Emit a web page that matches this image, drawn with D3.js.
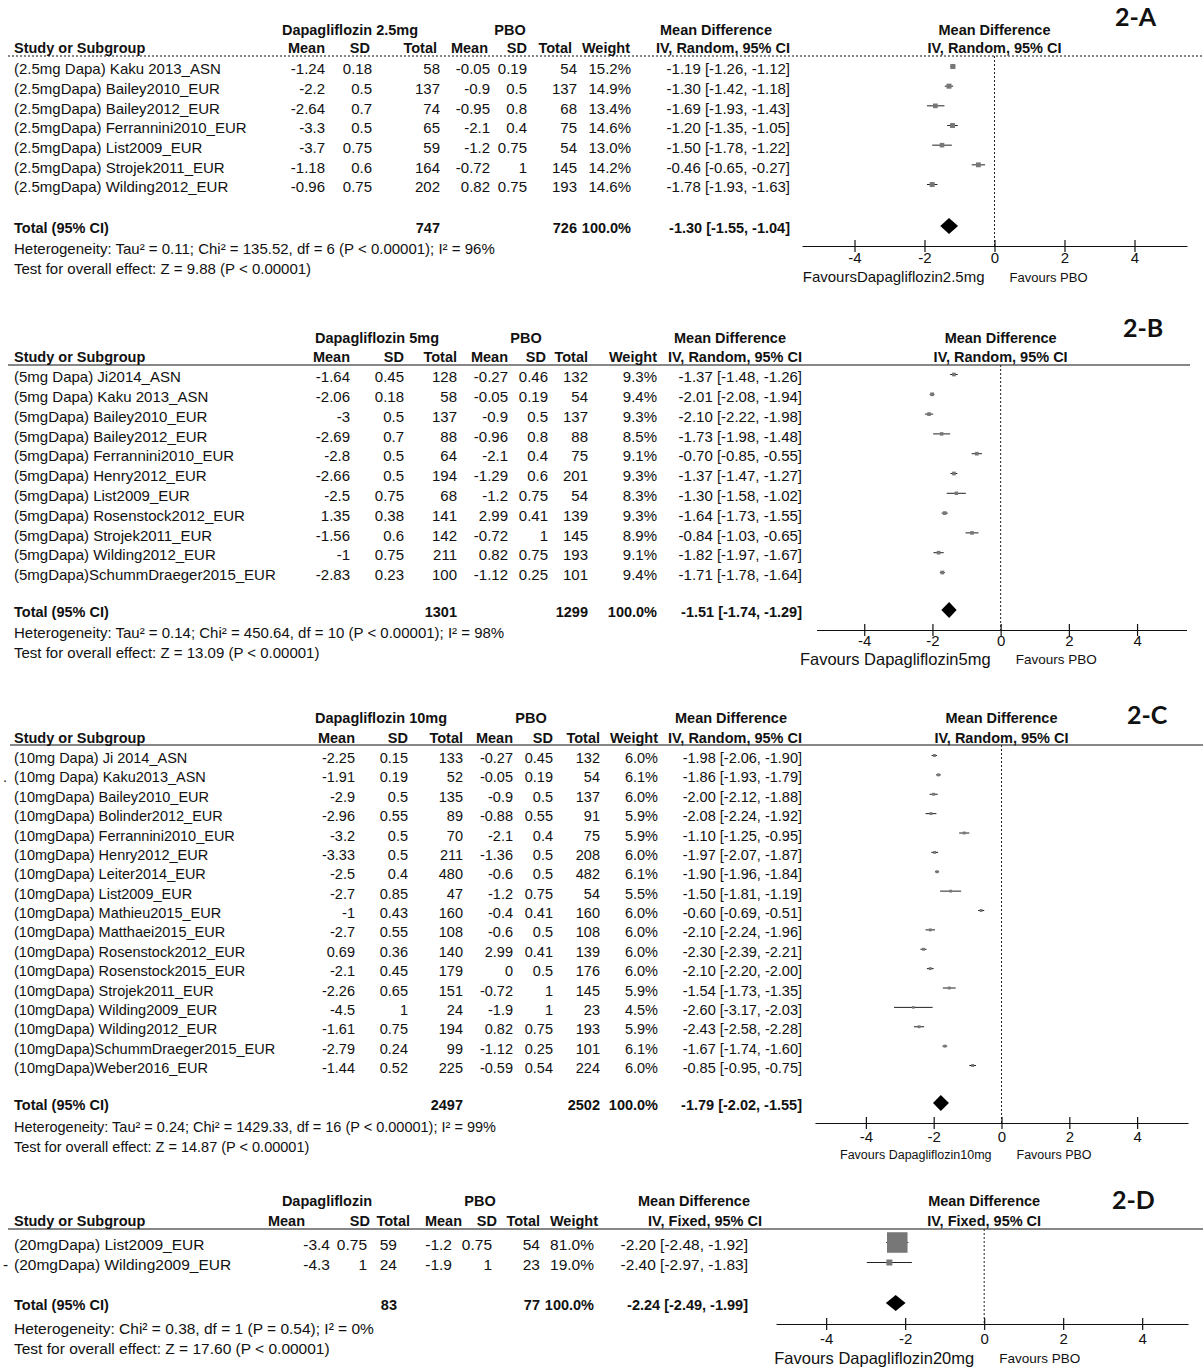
<!DOCTYPE html>
<html><head><meta charset="utf-8">
<script src="https://cdn.jsdelivr.net/npm/d3@7"></script>
<style>body{margin:0;background:#fff}svg text{font-family:"Liberation Sans",Arial,sans-serif;fill:#111}</style>
</head><body><svg id="chart" width="1203" height="1370"></svg>
<script>
// ---------- Panel 2-A : Dapagliflozin 2.5mg vs PBO ----------
const aStudies = ["(2.5mg Dapa) Kaku 2013_ASN","(2.5mgDapa) Bailey2010_EUR","(2.5mgDapa) Bailey2012_EUR","(2.5mgDapa) Ferrannini2010_EUR","(2.5mgDapa) List2009_EUR","(2.5mgDapa) Strojek2011_EUR","(2.5mgDapa) Wilding2012_EUR"];
const aDapaMean = [-1.24,-2.2,-2.64,-3.3,-3.7,-1.18,-0.96];
const aDapaSD   = [0.18,0.5,0.7,0.5,0.75,0.6,0.75];
const aDapaN    = [58,137,74,65,59,164,202];
const aPboMean  = [-0.05,-0.9,-0.95,-2.1,-1.2,-0.72,0.82];
const aPboSD    = [0.19,0.5,0.8,0.4,0.75,1,0.75];
const aPboN     = [54,137,68,75,54,145,193];
const aWeight   = [15.2,14.9,13.4,14.6,13.0,14.2,14.6];
const aMD       = [-1.19,-1.30,-1.69,-1.20,-1.50,-0.46,-1.78];
const aLo       = [-1.26,-1.42,-1.93,-1.35,-1.78,-0.65,-1.93];
const aHi       = [-1.12,-1.18,-1.43,-1.05,-1.22,-0.27,-1.63];
const aTotal    = {dapaN:747, pboN:726, md:-1.30, lo:-1.55, hi:-1.04};
const aHet  = "Heterogeneity: Tau\u00B2 = 0.11; Chi\u00B2 = 135.52, df = 6 (P < 0.00001); I\u00B2 = 96%";
const aTest = "Test for overall effect: Z = 9.88 (P < 0.00001)";

// ---------- Panel 2-B : Dapagliflozin 5mg vs PBO ----------
const bStudies = ["(5mg Dapa) Ji2014_ASN","(5mg Dapa) Kaku 2013_ASN","(5mgDapa) Bailey2010_EUR","(5mgDapa) Bailey2012_EUR","(5mgDapa) Ferrannini2010_EUR","(5mgDapa) Henry2012_EUR","(5mgDapa) List2009_EUR","(5mgDapa) Rosenstock2012_EUR","(5mgDapa) Strojek2011_EUR","(5mgDapa) Wilding2012_EUR","(5mgDapa)SchummDraeger2015_EUR"];
const bDapaMean = [-1.64,-2.06,-3,-2.69,-2.8,-2.66,-2.5,1.35,-1.56,-1,-2.83];
const bDapaSD   = [0.45,0.18,0.5,0.7,0.5,0.5,0.75,0.38,0.6,0.75,0.23];
const bDapaN    = [128,58,137,88,64,194,68,141,142,211,100];
const bPboMean  = [-0.27,-0.05,-0.9,-0.96,-2.1,-1.29,-1.2,2.99,-0.72,0.82,-1.12];
const bPboSD    = [0.46,0.19,0.5,0.8,0.4,0.6,0.75,0.41,1,0.75,0.25];
const bPboN     = [132,54,137,88,75,201,54,139,145,193,101];
const bWeight   = [9.3,9.4,9.3,8.5,9.1,9.3,8.3,9.3,8.9,9.1,9.4];
const bMD       = [-1.37,-2.01,-2.10,-1.73,-0.70,-1.37,-1.30,-1.64,-0.84,-1.82,-1.71];
const bLo       = [-1.48,-2.08,-2.22,-1.98,-0.85,-1.47,-1.58,-1.73,-1.03,-1.97,-1.78];
const bHi       = [-1.26,-1.94,-1.98,-1.48,-0.55,-1.27,-1.02,-1.55,-0.65,-1.67,-1.64];
const bTotal    = {dapaN:1301, pboN:1299, md:-1.51, lo:-1.74, hi:-1.29};
const bHet  = "Heterogeneity: Tau\u00B2 = 0.14; Chi\u00B2 = 450.64, df = 10 (P < 0.00001); I\u00B2 = 98%";
const bTest = "Test for overall effect: Z = 13.09 (P < 0.00001)";

// ---------- Panel 2-C : Dapagliflozin 10mg vs PBO ----------
const cStudies = ["(10mg Dapa) Ji 2014_ASN","(10mg Dapa) Kaku2013_ASN","(10mgDapa) Bailey2010_EUR","(10mgDapa) Bolinder2012_EUR","(10mgDapa) Ferrannini2010_EUR","(10mgDapa) Henry2012_EUR","(10mgDapa) Leiter2014_EUR","(10mgDapa) List2009_EUR","(10mgDapa) Mathieu2015_EUR","(10mgDapa) Matthaei2015_EUR","(10mgDapa) Rosenstock2012_EUR","(10mgDapa) Rosenstock2015_EUR","(10mgDapa) Strojek2011_EUR","(10mgDapa) Wilding2009_EUR","(10mgDapa) Wilding2012_EUR","(10mgDapa)SchummDraeger2015_EUR","(10mgDapa)Weber2016_EUR"];
const cDapaMean = [-2.25,-1.91,-2.9,-2.96,-3.2,-3.33,-2.5,-2.7,-1,-2.7,0.69,-2.1,-2.26,-4.5,-1.61,-2.79,-1.44];
const cDapaSD   = [0.15,0.19,0.5,0.55,0.5,0.5,0.4,0.85,0.43,0.55,0.36,0.45,0.65,1,0.75,0.24,0.52];
const cDapaN    = [133,52,135,89,70,211,480,47,160,108,140,179,151,24,194,99,225];
const cPboMean  = [-0.27,-0.05,-0.9,-0.88,-2.1,-1.36,-0.6,-1.2,-0.4,-0.6,2.99,0,-0.72,-1.9,0.82,-1.12,-0.59];
const cPboSD    = [0.45,0.19,0.5,0.55,0.4,0.5,0.5,0.75,0.41,0.5,0.41,0.5,1,1,0.75,0.25,0.54];
const cPboN     = [132,54,137,91,75,208,482,54,160,108,139,176,145,23,193,101,224];
const cWeight   = [6.0,6.1,6.0,5.9,5.9,6.0,6.1,5.5,6.0,6.0,6.0,6.0,5.9,4.5,5.9,6.1,6.0];
const cMD       = [-1.98,-1.86,-2.00,-2.08,-1.10,-1.97,-1.90,-1.50,-0.60,-2.10,-2.30,-2.10,-1.54,-2.60,-2.43,-1.67,-0.85];
const cLo       = [-2.06,-1.93,-2.12,-2.24,-1.25,-2.07,-1.96,-1.81,-0.69,-2.24,-2.39,-2.20,-1.73,-3.17,-2.58,-1.74,-0.95];
const cHi       = [-1.90,-1.79,-1.88,-1.92,-0.95,-1.87,-1.84,-1.19,-0.51,-1.96,-2.21,-2.00,-1.35,-2.03,-2.28,-1.60,-0.75];
const cTotal    = {dapaN:2497, pboN:2502, md:-1.79, lo:-2.02, hi:-1.55};
const cHet  = "Heterogeneity: Tau\u00B2 = 0.24; Chi\u00B2 = 1429.33, df = 16 (P < 0.00001); I\u00B2 = 99%";
const cTest = "Test for overall effect: Z = 14.87 (P < 0.00001)";

// ---------- Panel 2-D : Dapagliflozin 20mg vs PBO ----------
const dStudies = ["(20mgDapa) List2009_EUR","(20mgDapa) Wilding2009_EUR"];
const dDapaMean = [-3.4,-4.3];
const dDapaSD   = [0.75,1];
const dDapaN    = [59,24];
const dPboMean  = [-1.2,-1.9];
const dPboSD    = [0.75,1];
const dPboN     = [54,23];
const dWeight   = [81.0,19.0];
const dMD       = [-2.20,-2.40];
const dLo       = [-2.48,-2.97];
const dHi       = [-1.92,-1.83];
const dTotal    = {dapaN:83, pboN:77, md:-2.24, lo:-2.49, hi:-1.99};
const dHet  = "Heterogeneity: Chi\u00B2 = 0.38, df = 1 (P = 0.54); I\u00B2 = 0%";
const dTest = "Test for overall effect: Z = 17.60 (P < 0.00001)";

const xTicks = [-4,-2,0,2,4];

// ---------- layout ----------
const panels = [
 {tag:"2-A", drug:"Dapagliflozin 2.5mg", method:"IV, Random, 95% CI", fav:"FavoursDapagliflozin2.5mg",
  studies:aStudies, dm:aDapaMean, ds:aDapaSD, dn:aDapaN, pm:aPboMean, ps:aPboSD, pn:aPboN, w:aWeight, md:aMD, lo:aLo, hi:aHi, tot:aTotal, het:aHet, test:aTest,
  fs:15, hfs:14.5, h1Y:30, h2Y:48, lineY:56, dotted:true, row0:69, rowN:187, totY:228, hetY:249, testY:269,
  cols:[325,372,440,490,527,577,631,790], hcols:[325,370,437,488,527,572,630,790], g1:[350,510,716], lineX:[8,1203],
  domain:[-5.5,5.5], range:[802,1187], axisY:246, tickY:258, favY:277, favFs:[15,13], tagX:1115, tagY:17, stray:null},
 {tag:"2-B", drug:"Dapagliflozin 5mg", method:"IV, Random, 95% CI", fav:"Favours Dapagliflozin5mg",
  studies:bStudies, dm:bDapaMean, ds:bDapaSD, dn:bDapaN, pm:bPboMean, ps:bPboSD, pn:bPboN, w:bWeight, md:bMD, lo:bLo, hi:bHi, tot:bTotal, het:bHet, test:bTest,
  fs:15, hfs:14.5, h1Y:338, h2Y:357, lineY:365, dotted:false, row0:377, rowN:575, totY:612, hetY:633, testY:653,
  cols:[350,404,457,508,548,588,657,802], hcols:[350,404,457,508,546,588,657,802], g1:[377,526,730], lineX:[8,1190],
  domain:[-5.4,5.45], range:[816.5,1186.5], axisY:630, tickY:641, favY:659, favFs:[16.5,13.5], tagX:1123, tagY:328, stray:null},
 {tag:"2-C", drug:"Dapagliflozin 10mg", method:"IV, Random, 95% CI", fav:"Favours Dapagliflozin10mg",
  studies:cStudies, dm:cDapaMean, ds:cDapaSD, dn:cDapaN, pm:cPboMean, ps:cPboSD, pn:cPboN, w:cWeight, md:cMD, lo:cLo, hi:cHi, tot:cTotal, het:cHet, test:cTest,
  fs:14.5, hfs:14.5, h1Y:718, h2Y:738, lineY:745, dotted:false, row0:758, rowN:1068, totY:1105, hetY:1127, testY:1147,
  cols:[355,408,463,513,553,600,658,802], hcols:[355,408,463,513,553,600,658,802], g1:[381,531,731], lineX:[10,1203],
  domain:[-5.5,5.5], range:[815,1188], axisY:1123, tickY:1137, favY:1155, favFs:[12.5,12.5], tagX:1127, tagY:715, stray:{row:1, s:"."}},
 {tag:"2-D", drug:"Dapagliflozin", method:"IV, Fixed, 95% CI", fav:"Favours Dapagliflozin20mg",
  studies:dStudies, dm:dDapaMean, ds:dDapaSD, dn:dDapaN, pm:dPboMean, ps:dPboSD, pn:dPboN, w:dWeight, md:dMD, lo:dLo, hi:dHi, tot:dTotal, het:dHet, test:dTest,
  fs:15.5, hfs:14.5, h1Y:1201, h2Y:1221, lineY:1229, dotted:false, row0:1245, rowN:1265, totY:1305, hetY:1329, testY:1349,
  cols:[330,367,397,452,492,540,594,748], hcols:[305,370,410,462,497,540,598,762], g1:[327,480,694], lineX:[8,1203],
  domain:[-5.27,5.16], range:[776,1188], axisY:1324, tickY:1339, favY:1358, favFs:[16.5,13.5], tagX:1112, tagY:1200, stray:{row:1, s:"-"}}
];

const svg = d3.select("#chart");
svg.append("rect").attr("width",1203).attr("height",1370).attr("fill","#fff");
const sizeScale = d3.scaleLinear().domain([0,100]).range([1.5,25]);
const f2 = v => v.toFixed(2);
const ciText = (m,l,h) => `${f2(m)} [${f2(l)}, ${f2(h)}]`;

panels.forEach(p => {
  const g = svg.append("g");
  const x = d3.scaleLinear().domain(p.domain).range(p.range);
  const n = p.studies.length;
  const y = d3.scaleLinear().domain([0, Math.max(1,n-1)]).range([p.row0, p.rowN]);
  const txt = (xx, yy, s, anchor, bold, size) => g.append("text")
      .attr("x", xx).attr("y", yy).attr("dy","0.35em")
      .attr("text-anchor", anchor).attr("font-weight", bold ? "bold" : "normal")
      .attr("font-size", size || p.fs).text(s);

  // header row 1
  txt(p.g1[0], p.h1Y, p.drug, "middle", true, p.hfs);
  txt(p.g1[1], p.h1Y, "PBO", "middle", true, p.hfs);
  txt(p.g1[2], p.h1Y, "Mean Difference", "middle", true, p.hfs);
  txt(x(0), p.h1Y, "Mean Difference", "middle", true, p.hfs);
  // header row 2
  txt(14, p.h2Y, "Study or Subgroup", "start", true, p.hfs);
  ["Mean","SD","Total","Mean","SD","Total","Weight",p.method].forEach((h,i)=>txt(p.hcols[i], p.h2Y, h, "end", true, p.hfs));
  txt(x(0), p.h2Y, p.method, "middle", true, p.hfs);
  g.append("line").attr("x1",p.lineX[0]).attr("x2",p.lineX[1]).attr("y1",p.lineY).attr("y2",p.lineY)
    .attr("stroke","#111").attr("stroke-width",1.2).attr("stroke-dasharray", p.dotted ? "2,2" : null);

  // study rows
  p.studies.forEach((s,i) => {
    const yy = y(i);
    txt(14, yy, s, "start", false);
    const vals = [p.dm[i], p.ds[i], p.dn[i], p.pm[i], p.ps[i], p.pn[i], p.w[i].toFixed(1)+"%", ciText(p.md[i],p.lo[i],p.hi[i])];
    vals.forEach((v,j)=>txt(p.cols[j], yy, String(v), "end", false));
    const my = yy - 2.5;
    g.append("line").attr("x1",x(p.lo[i])).attr("x2",x(p.hi[i])).attr("y1",my).attr("y2",my)
      .attr("stroke","#222").attr("stroke-width",1);
    const sz = sizeScale(p.w[i]);
    g.append("rect").attr("x",x(p.md[i])-sz/2).attr("y",my-sz/2).attr("width",sz).attr("height",sz)
      .attr("fill","#777");
  });
  if (p.stray) txt(3, y(p.stray.row), p.stray.s, "start", false);

  // total row
  txt(14, p.totY, "Total (95% CI)", "start", true, p.hfs);
  txt(p.cols[2], p.totY, String(p.tot.dapaN), "end", true, p.hfs);
  txt(p.cols[5], p.totY, String(p.tot.pboN), "end", true, p.hfs);
  txt(p.cols[6], p.totY, "100.0%", "end", true, p.hfs);
  txt(p.cols[7], p.totY, ciText(p.tot.md,p.tot.lo,p.tot.hi), "end", true, p.hfs);
  const dy = p.totY - 2;
  g.append("path")
    .attr("d", `M${x(p.tot.lo)},${dy} L${x(p.tot.md)},${dy-8} L${x(p.tot.hi)},${dy} L${x(p.tot.md)},${dy+8} Z`)
    .attr("fill","#000");
  txt(14, p.hetY, p.het, "start", false);
  txt(14, p.testY, p.test, "start", false);

  // zero line
  g.append("line").attr("x1",x(0)).attr("x2",x(0)).attr("y1",p.lineY).attr("y2",p.axisY)
    .attr("stroke","#222").attr("stroke-width",1).attr("stroke-dasharray","2,2");

  // axis
  const ax = g.append("g").attr("transform",`translate(0,${p.axisY})`)
    .call(d3.axisBottom(x).tickValues(xTicks).tickSizeOuter(0).tickSizeInner(6).tickFormat(d=>String(d)));
  ax.select(".domain").attr("stroke","#111").attr("stroke-width",1.2);
  ax.selectAll(".tick line").attr("y1",-6).attr("y2",6).attr("stroke","#111").attr("stroke-width",1.2);
  ax.selectAll(".tick text").attr("y", p.tickY - p.axisY).attr("dy","0.35em")
    .attr("font-size",15).attr("font-family",'"Liberation Sans",Arial,sans-serif').attr("fill","#111");

  // favours
  txt(x(0)-10, p.favY, p.fav, "end", false, p.favFs[0]);
  txt(x(0)+15, p.favY, "Favours PBO", "start", false, p.favFs[1]);

  // panel tag
  g.append("text").attr("x",p.tagX).attr("y",p.tagY).attr("dy","0.35em")
    .attr("font-weight","bold").attr("font-size",25)
    .style("font-family","Lato, 'Open Sans', sans-serif").text(p.tag);
});
</script>
</body></html>
